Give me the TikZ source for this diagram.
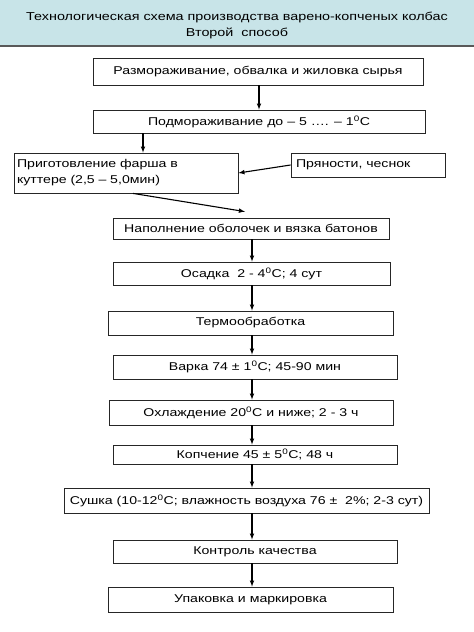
\documentclass[tikz,border=0pt]{standalone}
\usepackage{fontspec}
\setmainfont{Liberation Sans}[FakeStretch=1.25]
\usetikzlibrary{arrows}

\definecolor{bandblue}{RGB}{200,228,232}

\begin{document}
\begin{tikzpicture}[x=1pt,y=-1pt]

\tikzset{
    stage/.style={draw=black!85,line width=0.8pt,inner sep=0pt,
        font=\fontsize{11.3}{16}\selectfont},
    flow/.style={-latex,line width=1.1pt}}

\useasboundingbox (0,0) rectangle (474,632);

% title band
\fill[bandblue] (0,0) rectangle (474,45);
\fill[black!65] (0,45) rectangle (474,47);
\node[font=\fontsize{11.5}{16}\selectfont,align=center] (title) at (237,25)
    {Технологическая схема производства варено-копченых колбас\\Второй\ \ способ};

\node[stage, minimum width=330, minimum height=27] (defrost) at (258,71.5)
    {Размораживание, обвалка и жиловка сырья};
\node[stage, minimum width=332, minimum height=23] (chill) at (259,121.5)
    {Подмораживание до – 5 …. – 1\textsuperscript{0}С};
\node[stage, minimum height=40, text width=218, inner xsep=3, align=left] (cutter) at (126,173)
    {Приготовление фарша в\\куттере (2,5 – 5,0мин)};
\node[stage, minimum height=24, text width=144, inner xsep=5, align=left] (spice) at (368,165)
    {Пряности, чеснок};
\node[stage, minimum width=276, minimum height=21] (fill) at (251,228.5)
    {Наполнение оболочек и вязка батонов};
\node[stage, minimum width=277, minimum height=23] (settle) at (251.5,273.5)
    {Осадка\ \ 2 - 4\textsuperscript{0}С; 4 сут};
\node[stage, minimum width=285, minimum height=24] (heat) at (250.5,323)
    {Термообработка};
\node[stage, minimum width=284, minimum height=24] (cook) at (255,367)
    {Варка 74 ± 1\textsuperscript{0}С; 45-90 мин};
\node[stage, minimum width=284, minimum height=25] (cool) at (251,412.5)
    {Охлаждение 20\textsuperscript{0}С и ниже; 2 - 3 ч};
\node[stage, minimum width=284, minimum height=19] (smoke) at (255,454.5)
    {Копчение 45 ± 5\textsuperscript{0}С; 48 ч};
\node[stage, minimum width=365, minimum height=25] (dry) at (246.5,500.5)
    {Сушка (10-12\textsuperscript{0}С; влажность воздуха 76 ±\ \ 2\%; 2-3 сут)};
\node[stage, minimum width=284, minimum height=23] (check) at (255,551.5)
    {Контроль качества};
\node[stage, minimum width=285, minimum height=25] (pack) at (250.5,599.5)
    {Упаковка и маркировка};

\coordinate (axis) at (252,0);
\coordinate (cutin) at ([xshift=17]cutter.north);
\coordinate (cutout) at ([xshift=7]cutter.south);
\coordinate (fillin) at ([xshift=-6,yshift=6]fill.north);

\draw[flow] (defrost.south -| chill.north) -- (chill.north);
\draw[flow] (chill.south -| cutin) -- (cutin);
\draw[flow] (spice.west) -- (cutter.east);
\draw[flow] (cutout) -- (fillin);

\foreach \a/\b in {fill/settle,settle/heat,heat/cook,cook/cool,cool/smoke,smoke/dry,dry/check,check/pack}
    \draw[flow] (\a.south -| axis) -- (\b.north -| axis);

\end{tikzpicture}
\end{document}
